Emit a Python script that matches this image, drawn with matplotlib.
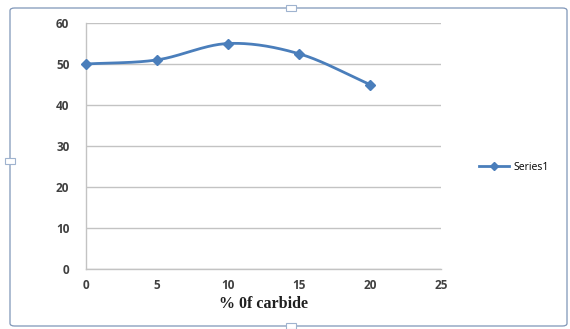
import numpy as np
import matplotlib
matplotlib.use("Agg")
import matplotlib.pyplot as plt
from matplotlib.patches import FancyBboxPatch, Rectangle
from matplotlib.lines import Line2D

# Data
carbide_pct = [0, 5, 10, 15, 20]
series1 = [50, 51, 55, 52.5, 45]
x_ticks = [0, 5, 10, 15, 20, 25]
y_ticks = [0, 10, 20, 30, 40, 50, 60]
series_name = "Series1"
x_label = "% 0f carbide"

LINE_COLOR = "#4a7ebb"
GRID_COLOR = "#c3c3c3"
TEXT_COLOR = "#404040"


def smooth_curve(xs, ys, steps=40):
    """Catmull-Rom style smoothing, as used by office chart 'smoothed line'."""
    xs = np.asarray(xs, float)
    ys = np.asarray(ys, float)
    px = np.concatenate([[2 * xs[0] - xs[1]], xs, [2 * xs[-1] - xs[-2]]])
    py = np.concatenate([[2 * ys[0] - ys[1]], ys, [2 * ys[-1] - ys[-2]]])
    out_x, out_y = [], []
    t = np.linspace(0, 1, steps)
    for i in range(1, len(px) - 2):
        for arr, out in ((px, out_x), (py, out_y)):
            p0, p1, p2, p3 = arr[i - 1], arr[i], arr[i + 1], arr[i + 2]
            seg = 0.5 * ((2 * p1) + (-p0 + p2) * t
                         + (2 * p0 - 5 * p1 + 4 * p2 - p3) * t ** 2
                         + (-p0 + 3 * p1 - 3 * p2 + p3) * t ** 3)
            out.extend(seg)
    return np.array(out_x), np.array(out_y)


fig = plt.figure(figsize=(5.70, 3.29), dpi=100)
fig.patch.set_facecolor("white")

# Chart frame
frame = FancyBboxPatch((10 / 570, 3 / 329), 557 / 570, 318 / 329,
                       boxstyle="round,pad=0,rounding_size=0.008",
                       transform=fig.transFigure, fill=False,
                       edgecolor="#7f96b8", linewidth=0.9)
fig.patches.append(frame)
for cx, cy in [(291, 321), (10, 168), (291, 3)]:
    fig.patches.append(Rectangle(((cx - 5) / 570, (cy - 3) / 329), 10 / 570, 6 / 329,
                                 transform=fig.transFigure, facecolor="white",
                                 edgecolor="#9fb3cf", linewidth=0.8))

ax = fig.add_axes([86 / 570, 1 - 269 / 329, (441 - 86) / 570, (269 - 23) / 329])
ax.set_xlim(0, 25)
ax.set_ylim(0, 60)
ax.set_xticks(x_ticks)
ax.set_yticks(y_ticks)
ax.yaxis.grid(True, color=GRID_COLOR, linewidth=1.0)
ax.set_axisbelow(True)
for side in ("top", "right"):
    ax.spines[side].set_visible(False)
for side in ("left", "bottom"):
    ax.spines[side].set_color(GRID_COLOR)
    ax.spines[side].set_linewidth(1.0)
ax.tick_params(length=0, labelsize=8.5, labelcolor=TEXT_COLOR)
ax.tick_params(axis="x", pad=7)
ax.tick_params(axis="y", pad=12)
for lbl in ax.get_xticklabels() + ax.get_yticklabels():
    lbl.set_fontweight("bold")
    lbl.set_fontfamily("Open Sans")

sx, sy = smooth_curve(carbide_pct, series1)
ax.plot(sx, sy, color=LINE_COLOR, linewidth=2.0, clip_on=False, zorder=3)
ax.plot(carbide_pct, series1, linestyle="none", marker="D", markersize=5.5,
        color=LINE_COLOR, clip_on=False, zorder=4)

ax.set_xlabel(x_label, fontsize=11.5, fontweight="bold", family="Liberation Serif",
              color="#202020", labelpad=3)

handle = Line2D([], [], color=LINE_COLOR, linewidth=2.0, marker="D", markersize=4.5)
fig.legend([handle], [series_name], loc="center left",
           bbox_to_anchor=(470 / 570, 1 - 167 / 329), frameon=False,
           handlelength=2.8, handletextpad=0.5,
           prop={"family": "Open Sans", "size": 7.5})

fig.savefig("out.png", dpi=100, facecolor="white")
